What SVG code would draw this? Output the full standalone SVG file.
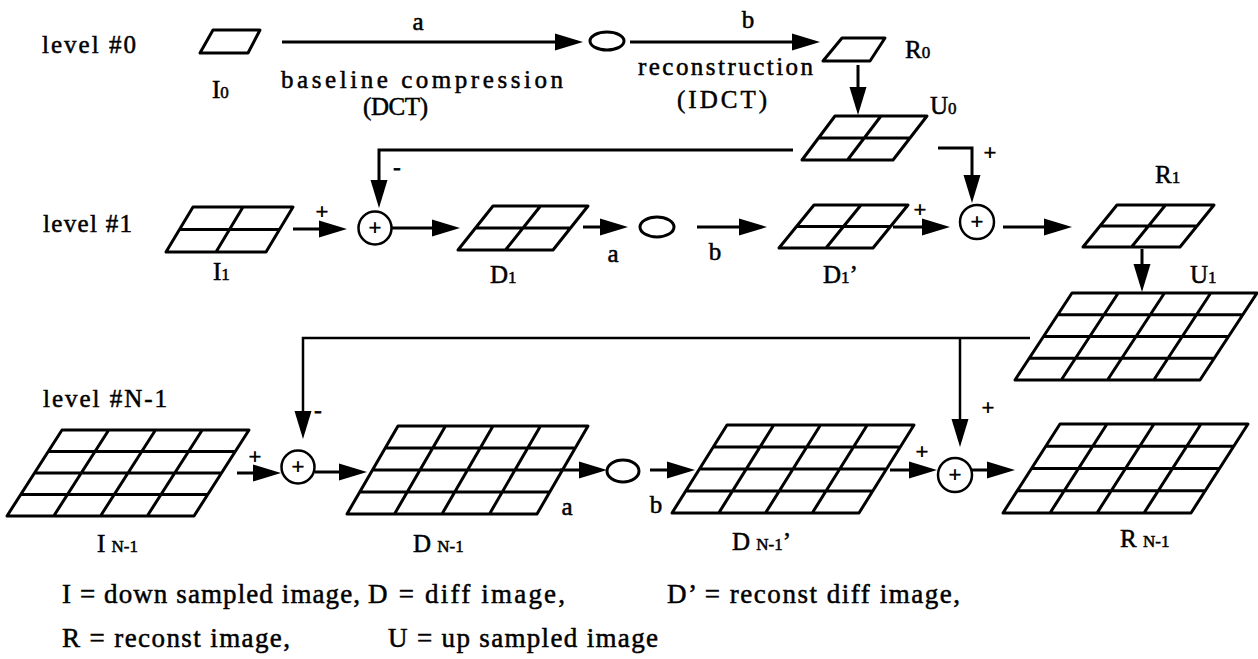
<svg xmlns="http://www.w3.org/2000/svg" width="1258" height="659" viewBox="0 0 1258 659">
<style>
  .pg { fill: none; stroke: #000; stroke-width: 3; stroke-linejoin: round; stroke-linecap: round; }
  .cn { fill: none; stroke: #000; stroke-width: 3; marker-end: url(#ah); }
  .fb { fill: none; stroke: #000; stroke-width: 2.5; }
  .fba { fill: none; stroke: #000; stroke-width: 2.5; marker-end: url(#ah); }
  .sum { fill: #fff; stroke: #000; stroke-width: 2.5; }
  .ell { fill: #fff; stroke: #000; stroke-width: 3; }
  text { font-family: "Liberation Serif", "Times New Roman", serif; fill: #000; stroke: #000; stroke-width: 0.5; }
  .lb { font-size: 25px; }
  .sub { font-size: 17px; }
  .lg { font-size: 27px; }
  .pl { font-size: 22px; text-anchor: middle; stroke-width: 0.8; }
</style>
<defs>
  <marker id="ah" markerUnits="userSpaceOnUse" markerWidth="28" markerHeight="18" viewBox="0 0 28 18" refX="18" refY="9" orient="auto">
    <path d="M0,0.5 L28,9 L0,17.5 z" fill="#000"/>
  </marker>
</defs>
<rect width="1258" height="659" fill="#fff"/>

<!-- connectors -->
<g id="connectors">
  <line class="cn" x1="282" y1="42" x2="573" y2="42"/>
  <line class="cn" x1="630" y1="42" x2="810" y2="42"/>
  <line class="cn" x1="858" y1="65" x2="858" y2="105"/>
  <polyline class="cn" points="793,150 379,150 379,198"/>
  <polyline class="cn" points="938,148 972,148 972,193"/>
  <line class="cn" x1="293" y1="229" x2="337" y2="229"/>
  <line class="cn" x1="392" y1="228" x2="450" y2="228"/>
  <line class="cn" x1="583" y1="227" x2="618" y2="227"/>
  <line class="cn" x1="697" y1="227" x2="757" y2="227"/>
  <line class="cn" x1="893" y1="227" x2="940" y2="227"/>
  <line class="cn" x1="1003" y1="227" x2="1062" y2="227"/>
  <line class="cn" x1="1142" y1="249" x2="1142" y2="282"/>
  <polyline class="fb" points="1030,338 303,338 303,400"/>
  <line class="fba" x1="303" y1="400" x2="303" y2="429"/>
  <line class="fba" x1="960" y1="338" x2="960" y2="437"/>
  <line class="cn" x1="237" y1="473" x2="271" y2="473"/>
  <line class="cn" x1="315" y1="472" x2="357" y2="472"/>
  <line class="cn" x1="560" y1="470" x2="597" y2="470"/>
  <line class="cn" x1="650" y1="470" x2="685" y2="470"/>
  <line class="cn" x1="890" y1="470" x2="927" y2="470"/>
  <line class="cn" x1="972" y1="470" x2="1005" y2="470"/>
</g>

<!-- level labels -->
<g id="levels">
  <text class="lb" x="42" y="53" textLength="94" lengthAdjust="spacing">level #0</text>
  <text class="lb" x="43" y="232" textLength="89" lengthAdjust="spacing">level #1</text>
  <text class="lb" x="43" y="407" textLength="124" lengthAdjust="spacing">level #N-1</text>
</g>

<!-- edge labels -->
<g id="edge-labels">
  <text class="lb" x="418" y="30" text-anchor="middle">a</text>
  <text class="lb" x="281" y="88" textLength="282" lengthAdjust="spacing">baseline compression</text>
  <text class="lb" x="363" y="115" textLength="65" lengthAdjust="spacing">(DCT)</text>
  <text class="lb" x="748" y="28" text-anchor="middle">b</text>
  <text class="lb" x="638" y="75" textLength="175" lengthAdjust="spacing">reconstruction</text>
  <text class="lb" x="677" y="108" textLength="90" lengthAdjust="spacing">(IDCT)</text>
  <text class="lb" x="613" y="262" text-anchor="middle">a</text>
  <text class="lb" x="715" y="260" text-anchor="middle">b</text>
  <text class="lb" x="567" y="515" text-anchor="middle">a</text>
  <text class="lb" x="656" y="513" text-anchor="middle">b</text>
  <text class="pl" x="397" y="174">-</text>
  <text class="pl" x="322" y="219">+</text>
  <text class="pl" x="920" y="217">+</text>
  <text class="pl" x="990" y="160">+</text>
  <text class="pl" x="318" y="417">-</text>
  <text class="pl" x="255" y="464">+</text>
  <text class="pl" x="988" y="415">+</text>
  <text class="pl" x="922" y="459">+</text>
</g>

<!-- nodes -->
<g id="I0">
  <path class="pg" d="M213,30 L260,30 L248,53 L200,53 Z"/>
  <text class="lb" x="212" y="98">I<tspan class="sub">0</tspan></text>
</g>
<g id="Q0">
  <ellipse class="ell" cx="607" cy="41" rx="17" ry="9"/>
</g>
<g id="R0">
  <path class="pg" d="M842,38 L885,38 L870,61 L823,61 Z"/>
  <text class="lb" x="905" y="58">R<tspan class="sub">0</tspan></text>
</g>
<g id="U0">
  <path class="pg" d="M835,116 L927,116 L893,160 L802,160 Z M818.5,138 L910,138 M881,116 L847.5,160"/>
  <text class="lb" x="930" y="114">U<tspan class="sub">0</tspan></text>
</g>

<g id="I1">
  <path class="pg" d="M193,207 L293,207 L266,252 L166,252 Z M179.5,229.5 L279.5,229.5 M243,207 L216,252"/>
  <text class="lb" x="213" y="280">I<tspan class="sub">1</tspan></text>
</g>
<g id="S1">
  <circle class="sum" cx="375" cy="228" r="16.5"/>
  <text class="pl" x="375" y="235">+</text>
</g>
<g id="D1">
  <path class="pg" d="M493,206 L588,206 L553,250 L458,250 Z M475.5,228 L570.5,228 M540.5,206 L505.5,250"/>
  <text class="lb" x="490" y="283">D<tspan class="sub">1</tspan></text>
</g>
<g id="Q1">
  <ellipse class="ell" cx="657" cy="227" rx="17" ry="10"/>
</g>
<g id="D1p">
  <path class="pg" d="M814,205 L908,205 L873,248 L779,248 Z M796.5,226.5 L890.5,226.5 M861,205 L826,248"/>
  <text class="lb" x="823" y="283">D<tspan class="sub">1</tspan>’</text>
</g>
<g id="S2">
  <circle class="sum" cx="977" cy="222" r="17"/>
  <text class="pl" x="977" y="229">+</text>
</g>
<g id="R1">
  <path class="pg" d="M1117,205 L1214,205 L1180,247 L1083,247 Z M1100,226 L1197,226 M1165.5,205 L1131.5,247"/>
  <text class="lb" x="1155" y="183">R<tspan class="sub">1</tspan></text>
</g>
<g id="U1">
  <path class="pg" d="M1072,293 L1257,293 L1200,380 L1015,380 Z M1057.75,314.75 L1242.75,314.75 M1043.5,336.5 L1228.5,336.5 M1029.25,358.25 L1214.25,358.25 M1118.25,293 L1061.25,380 M1164.5,293 L1107.5,380 M1210.75,293 L1153.75,380"/>
  <text class="lb" x="1190" y="283">U<tspan class="sub">1</tspan></text>
</g>

<g id="IN1">
  <path class="pg" d="M62,430 L249,430 L194,516 L7,516 Z M48.25,451.5 L235.25,451.5 M34.5,473 L221.5,473 M20.75,494.5 L207.75,494.5 M108.75,430 L53.75,516 M155.5,430 L100.5,516 M202.25,430 L147.25,516"/>
  <text class="lb" x="97" y="552">I <tspan class="sub">N-1</tspan></text>
</g>
<g id="S3">
  <circle class="sum" cx="298" cy="467" r="16.5"/>
  <text class="pl" x="298" y="474">+</text>
</g>
<g id="DN1">
  <path class="pg" d="M398,426 L588,426 L537,514 L347,514 Z M385.25,448 L575.25,448 M372.5,470 L562.5,470 M359.75,492 L549.75,492 M445.5,426 L394.5,514 M493,426 L442,514 M540.5,426 L489.5,514"/>
  <text class="lb" x="413" y="552">D <tspan class="sub">N-1</tspan></text>
</g>
<g id="QN1">
  <ellipse class="ell" cx="623" cy="471" rx="16" ry="11"/>
</g>
<g id="DN1p">
  <path class="pg" d="M727,425 L914,425 L859,513 L672,513 Z M713.25,447 L900.25,447 M699.5,469 L886.5,469 M685.75,491 L872.75,491 M773.75,425 L718.75,513 M820.5,425 L765.5,513 M867.25,425 L812.25,513"/>
  <text class="lb" x="732" y="550">D <tspan class="sub">N-1</tspan>’</text>
</g>
<g id="S4">
  <circle class="sum" cx="955" cy="475" r="17"/>
  <text class="pl" x="955" y="482">+</text>
</g>
<g id="RN1">
  <path class="pg" d="M1060,424 L1248,424 L1191,513 L1003,513 Z M1045.75,446.25 L1233.75,446.25 M1031.5,468.5 L1219.5,468.5 M1017.25,490.75 L1205.25,490.75 M1107,424 L1050,513 M1154,424 L1097,513 M1201,424 L1144,513"/>
  <text class="lb" x="1120" y="547">R <tspan class="sub">N-1</tspan></text>
</g>

<!-- legend -->
<g id="legend">
  <text class="lg" x="62" y="603" textLength="298" lengthAdjust="spacing">I = down sampled image,</text>
  <text class="lg" x="368" y="603" textLength="197" lengthAdjust="spacing">D = diff image,</text>
  <text class="lg" x="667" y="603" textLength="293" lengthAdjust="spacing">D’ = reconst diff image,</text>
  <text class="lg" x="62" y="647" textLength="228" lengthAdjust="spacing">R = reconst image,</text>
  <text class="lg" x="388" y="647" textLength="270" lengthAdjust="spacing">U = up sampled image</text>
</g>
</svg>
